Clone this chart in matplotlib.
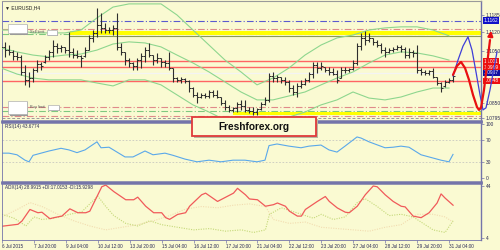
import numpy as np
import matplotlib
matplotlib.use("Agg")
import matplotlib.pyplot as plt
import matplotlib.transforms as mtransforms
from matplotlib.patches import Rectangle

# ---- data ------------------------------------------------------------------
# H4 bars, index 0 = 6 Jul 12:00
high = [1.1079, 1.1083, 1.1071, 1.1052, 1.1045, 1.1033, 1.0996, 1.0969, 1.0984, 1.1014,
        1.1007, 1.1033, 1.1052, 1.1090, 1.1079, 1.1071, 1.1064, 1.1121, 1.1060, 1.1052,
        1.1033, 1.1064, 1.1109, 1.1128, 1.1212, 1.1193, 1.1155, 1.1140, 1.1147, 1.1193,
        1.1079, 1.1045, 1.1022, 1.1007, 1.1022, 1.1041, 1.1064, 1.1079, 1.1033, 1.1041,
        1.1022, 1.1014, 1.1045, 1.0984, 1.0950, 1.0950, 1.0946, 1.0939, 1.0912, 1.0893,
        1.0889, 1.0889, 1.0901, 1.0901, 1.0901, 1.0874, 1.0863, 1.0844, 1.0836, 1.0855,
        1.0863, 1.0863, 1.0836, 1.0836, 1.0833, 1.0855, 1.0874, 1.0965, 1.0969, 1.0958,
        1.0950, 1.0950, 1.0939, 1.0920, 1.0927, 1.0939, 1.0946, 1.0969, 1.1007, 1.1007,
        1.1007, 1.0988, 1.0988, 1.0984, 1.0977, 1.0988, 1.0988, 1.0984, 1.1014, 1.1079,
        1.1117, 1.1125, 1.1117, 1.1098, 1.1090, 1.1079, 1.1064, 1.1060, 1.1064, 1.1071,
        1.1071, 1.1064, 1.1060, 1.1052, 1.1071, 1.0984, 1.0977, 1.0977, 1.0984, 1.0950,
        1.0931, 1.0939, 1.0946, 1.0961]
low = [1.1033, 1.1026, 1.1033, 1.1014, 1.1014, 1.0958, 1.0920, 1.0912, 1.0931, 1.0969,
       1.0977, 1.1003, 1.1014, 1.1026, 1.1041, 1.1045, 1.1041, 1.1026, 1.1022, 1.1022,
       1.0988, 1.1026, 1.1052, 1.1083, 1.1102, 1.1117, 1.1117, 1.1117, 1.1109, 1.1052,
       1.1033, 1.0996, 1.0988, 1.0977, 1.0977, 1.0984, 1.1007, 1.1026, 1.0996, 1.1003,
       1.0988, 1.0988, 1.0977, 1.0931, 1.0931, 1.0927, 1.0927, 1.0893, 1.0874, 1.0852,
       1.0870, 1.0870, 1.0870, 1.0874, 1.0870, 1.0844, 1.0825, 1.0817, 1.0817, 1.0817,
       1.0825, 1.0817, 1.0813, 1.0806, 1.0806, 1.0825, 1.0844, 1.0855, 1.0931, 1.0931,
       1.0927, 1.0920, 1.0893, 1.0882, 1.0874, 1.0908, 1.0920, 1.0931, 1.0946, 1.0965,
       1.0977, 1.0969, 1.0958, 1.0958, 1.0927, 1.0946, 1.0965, 1.0969, 1.0977, 1.0996,
       1.1052, 1.1071, 1.1083, 1.1071, 1.1064, 1.1041, 1.1026, 1.1041, 1.1045, 1.1052,
       1.1045, 1.1022, 1.1022, 1.1026, 1.0965, 1.0958, 1.0958, 1.0958, 1.0946, 1.0920,
       1.0893, 1.0912, 1.0927, 1.0931]
opn = [1.1045, 1.1064, 1.1052, 1.1045, 1.1030, 1.1026, 1.0969, 1.0939, 1.0946, 1.0977,
       1.0999, 1.1007, 1.1026, 1.1045, 1.1068, 1.1060, 1.1064, 1.1052, 1.1045, 1.1033,
       1.1030, 1.1030, 1.1052, 1.1098, 1.1117, 1.1147, 1.1136, 1.1128, 1.1128, 1.1136,
       1.1064, 1.1045, 1.1014, 1.1003, 1.0992, 1.1014, 1.1030, 1.1052, 1.1033, 1.1014,
       1.1022, 1.1007, 1.1003, 1.0984, 1.0946, 1.0939, 1.0942, 1.0935, 1.0908, 1.0882,
       1.0874, 1.0882, 1.0878, 1.0893, 1.0882, 1.0874, 1.0852, 1.0836, 1.0825, 1.0833,
       1.0848, 1.0840, 1.0825, 1.0821, 1.0817, 1.0829, 1.0848, 1.0863, 1.0954, 1.0946,
       1.0950, 1.0939, 1.0931, 1.0908, 1.0893, 1.0916, 1.0923, 1.0939, 1.0961, 1.0996,
       1.0984, 1.0988, 1.0977, 1.0969, 1.0961, 1.0946, 1.0977, 1.0977, 1.0980, 1.1003,
       1.1068, 1.1098, 1.1090, 1.1098, 1.1083, 1.1071, 1.1052, 1.1045, 1.1052, 1.1056,
       1.1064, 1.1056, 1.1033, 1.1045, 1.1041, 1.0977, 1.0969, 1.0965, 1.0973, 1.0950,
       1.0927, 1.0916, 1.0931, 1.0939]
close = [1.1064, 1.1052, 1.1045, 1.1030, 1.1026, 1.0969, 1.0939, 1.0946, 1.0977, 1.0999,
         1.0992, 1.1026, 1.1045, 1.1068, 1.1060, 1.1064, 1.1052, 1.1045, 1.1033, 1.1030,
         1.1022, 1.1052, 1.1098, 1.1117, 1.1147, 1.1136, 1.1128, 1.1128, 1.1136, 1.1064,
         1.1045, 1.1014, 1.1003, 1.0992, 1.1014, 1.1030, 1.1052, 1.1033, 1.1014, 1.1022,
         1.1007, 1.1003, 1.0984, 1.0946, 1.0939, 1.0942, 1.0935, 1.0908, 1.0882, 1.0874,
         1.0882, 1.0878, 1.0893, 1.0882, 1.0874, 1.0852, 1.0836, 1.0825, 1.0833, 1.0848,
         1.0840, 1.0825, 1.0821, 1.0817, 1.0829, 1.0848, 1.0863, 1.0954, 1.0946, 1.0950,
         1.0939, 1.0931, 1.0908, 1.0893, 1.0916, 1.0923, 1.0939, 1.0961, 1.0996, 1.0984,
         1.0992, 1.0977, 1.0969, 1.0961, 1.0939, 1.0977, 1.0977, 1.0980, 1.1003, 1.1068,
         1.1098, 1.1090, 1.1098, 1.1083, 1.1071, 1.1052, 1.1045, 1.1052, 1.1056, 1.1064,
         1.1056, 1.1033, 1.1045, 1.1041, 1.0977, 1.0969, 1.0965, 1.0973, 1.0950, 1.0927,
         1.0908, 1.0931, 1.0939, 1.0954]

# Bollinger bands, sampled every 4 bars
bb_x = [0, 4, 8, 12, 16, 20, 24, 28, 32, 36, 40, 44, 48, 52, 56, 60, 64, 68, 72, 76,
        80, 84, 88, 92, 96, 100, 104, 108, 112]
bb_up = [1.1128, 1.1128, 1.1117, 1.1117, 1.1117, 1.1128, 1.1174, 1.1215, 1.1227, 1.1227,
         1.1227, 1.1185, 1.1128, 1.1071, 1.1014, 1.0969, 1.0920, 1.0946, 1.0984, 1.1033,
         1.1071, 1.1098, 1.1109, 1.1128, 1.1136, 1.1140, 1.1140, 1.1128, 1.1106]
bb_mid = [1.1060, 1.1045, 1.1033, 1.1026, 1.1033, 1.1037, 1.1052, 1.1075, 1.1083, 1.1079,
          1.1064, 1.1033, 1.1003, 1.0969, 1.0931, 1.0893, 1.0863, 1.0863, 1.0878, 1.0893,
          1.0920, 1.0946, 1.0969, 1.1003, 1.1033, 1.1045, 1.1041, 1.1030, 1.1014]
bb_low = [1.0984, 1.0961, 1.0946, 1.0939, 1.0939, 1.0939, 1.0927, 1.0916, 1.0939, 1.0939,
          1.0920, 1.0882, 1.0844, 1.0817, 1.0787, 1.0768, 1.0768, 1.0787, 1.0798, 1.0817,
          1.0844, 1.0863, 1.0893, 1.0870, 1.0863, 1.0874, 1.0893, 1.0908, 1.0908]

# forecast zigzags drawn past the last bar
fc_red_x = [113, 114, 115, 116, 117, 118, 119, 119.5, 120, 120.75, 121.5, 122.25]
fc_red_y = [1.0958, 1.0992, 1.1007, 1.0984, 1.0939, 1.0882, 1.0836, 1.0825, 1.0833,
            1.0901, 1.0996, 1.1090]
fc_red_tip = (122.6, 1.1136)
fc_blue_x = [113, 114.25, 115.5, 116.75, 117.75, 118.75, 119.75, 120.5, 121.25, 122.25,
             123.25, 124]
fc_blue_y = [1.0954, 1.1014, 1.1067, 1.1102, 1.1052, 1.0969, 1.0882, 1.0825, 1.0833,
             1.0901, 1.0984, 1.1045]

# RSI(14)
rsi_x = [0, 2, 4, 6, 7, 8, 10, 12, 15, 17, 19, 21, 24, 25, 27, 29, 31, 33, 36, 38, 41,
         43, 46, 49, 52, 55, 58, 61, 64, 66, 67, 69, 72, 75, 77, 80, 82, 84, 86, 89, 90,
         92, 96, 98, 100, 102, 105, 107, 110, 112, 113]
rsi = [46, 46, 43, 33, 30, 42, 46, 50, 55, 52, 47, 52, 67, 56, 57, 48, 39, 39, 50, 43,
       46, 42, 35, 30, 33, 30, 33, 33, 30, 33, 60, 63, 59, 56, 59, 61, 52, 48, 59, 76,
       74, 67, 56, 57, 59, 57, 43, 39, 33, 30, 43.7]

# ADX(14) and DI lines
adx_x = [0, 4, 5, 7, 9, 10, 12, 13, 15, 17, 19, 21, 22, 23, 25, 26, 28, 31, 33, 34, 36,
         38, 40, 41, 42, 44, 46, 47, 50, 51, 54, 58, 59, 61, 62, 64, 66, 68, 69, 71, 72,
         74, 75, 76, 79, 81, 82, 84, 86, 87, 89, 91, 93, 94, 96, 98, 100, 101, 103, 105,
         107, 109, 110, 111, 113]
adx = [12.8, 14.3, 16.8, 25.7, 23.2, 23.6, 18.6, 19.4, 20.6, 26.2, 23.2, 23.2, 24.4, 30.7,
       43.2, 44.5, 39.5, 33.2, 33.2, 35.2, 28.2, 23.2, 23.2, 19.4, 18.1, 21.9, 23.2, 28.2,
       37.0, 38.3, 31.9, 38.3, 42.0, 37.0, 33.8, 33.2, 28.2, 29.4, 30.7, 28.2, 24.4, 20.6,
       20.6, 25.7, 31.9, 35.7, 31.9, 26.9, 23.6, 23.2, 28.2, 37.0, 43.8, 43.2, 37.0, 31.9,
       28.2, 27.7, 20.6, 19.4, 23.2, 30.7, 37.7, 34.5, 29.0]
pdi_x = [0, 3, 6, 8, 10, 13, 17, 20, 22, 24, 26, 28, 31, 34, 37, 40, 44, 48, 52, 56,
         60, 63, 66, 67, 70, 73, 76, 78, 80, 83, 86, 89, 91, 94, 97, 100, 103, 105, 108,
         111, 113]
pdi = [22, 19, 13, 20, 18, 19, 22, 24, 30, 36, 28, 21, 15, 13, 17, 14, 12, 10, 11, 9,
       10, 8, 10, 22, 27, 24, 21, 19, 22, 18, 20, 31, 34, 28, 21, 22, 20, 16, 10, 8, 17]
mdi_x = [0, 4, 7, 10, 14, 18, 22, 26, 30, 34, 38, 42, 46, 50, 54, 58, 62, 66, 68, 72,
         76, 80, 84, 88, 92, 96, 100, 104, 108, 111, 113]
mdi = [20, 26, 31, 28, 22, 17, 13, 10, 12, 14, 17, 21, 26, 28, 27, 29, 30, 28, 18, 15,
       16, 12, 11, 10, 9, 12, 14, 22, 22, 20, 16]

date_pos = [0, 8, 16, 24, 32, 40, 48, 56, 64, 72, 80, 88, 96, 104, 112]
date_lbl = ["6 Jul 2015", "7 Jul 20:00", "9 Jul 04:00", "10 Jul 12:00", "13 Jul 20:00",
            "15 Jul 04:00", "16 Jul 12:00", "17 Jul 20:00", "21 Jul 04:00", "22 Jul 12:00",
            "23 Jul 20:00", "27 Jul 04:00", "28 Jul 12:00", "29 Jul 20:00", "31 Jul 04:00"]

# ---- style -----------------------------------------------------------------
BG = "#fafad2"; FRAME = "#7474aa"; BARC = "#2e2e2e"; BAND = "#8ed68e"
RED = "#ff6464"; TXT = "#2a2a55"
FS = 3.3
plt.rcParams.update({"font.family": ["Liberation Sans", "DejaVu Sans"], "font.size": FS})

W, H = 500, 250
fig = plt.figure(figsize=(5, 2.5), dpi=100, facecolor=BG)

def px_axes(x0, y0, x1, y1):
    return fig.add_axes([x0 / W, 1 - y1 / H, (x1 - x0) / W, (y1 - y0) / H], facecolor=BG)

def fig_rect(x0, y0, x1, y1, **kw):
    r = Rectangle((x0 / W, 1 - y1 / H), (x1 - x0) / W, (y1 - y0) / H,
                  transform=fig.transFigure, **kw)
    fig.add_artist(r)
    return r

ax = px_axes(2, 1, 481, 121)
ax_rsi = px_axes(2, 122, 481, 182)
ax_adx = px_axes(2, 183, 481, 240)

XL = (0.25, 120)
for a in (ax, ax_rsi, ax_adx):
    a.set_xlim(*XL)
    a.yaxis.tick_right()
    a.tick_params(axis="y", length=2, width=0.5, pad=1.2, labelsize=3.5,
                  colors=FRAME, labelcolor=TXT)
    a.tick_params(axis="x", length=0, labelbottom=False)
    for s in ("left", "right", "top", "bottom"):
        a.spines[s].set_color(FRAME)
    a.spines["left"].set_linewidth(0.6)
    a.spines["right"].set_linewidth(1.0)
    a.spines["top"].set_linewidth(1.8)
    a.spines["bottom"].set_linewidth(1.8)
ax.spines["top"].set_color("#9a9a9a")
ax.spines["top"].set_linewidth(0.8)
ax_adx.spines["bottom"].set_linewidth(0.6)

# ---- main panel ------------------------------------------------------------
ax.set_ylim(1.0783, 1.1238)
xb = np.arange(len(high))

# horizontal levels
dd = (0, (6, 2, 1, 2))
ax.axhline(1.1162, color="#5a5ad0", lw=0.8, ls=dd, zorder=1)
ax.axhline(1.1132, color="#e08a8a", lw=0.8, ls=dd, zorder=1)
ax.axhline(1.1113, color="#7fc87f", lw=0.8, ls=dd, zorder=1)
ax.fill_between([17.25, 120], 1.1108, 1.1126, color="#ffff00", lw=0, zorder=2)
ax.plot([17.25, 120], [1.1106, 1.1106], color="#8a9a5a", lw=0.8, zorder=2)
for lvl in (1.1009, 1.0986, 1.0933):
    ax.axhline(lvl, color=RED, lw=1.0, zorder=1)
ax.axhline(1.0965, color="#f4f4f4", lw=0.9, zorder=1)
ax.axhline(1.0836, color="#e08a8a", lw=0.8, ls=dd, zorder=1)
ax.axhline(1.0821, color="#7fc87f", lw=0.8, ls=dd, zorder=1)
ax.fill_between([58, 120], 1.0807, 1.0818, color="#ffff00", lw=0, zorder=2)
ax.axhline(1.0803, color="#e08a8a", lw=0.8, ls=dd, zorder=1)
ax.axhline(1.0794, color="#9a9a9a", lw=0.7, ls=(0, (3, 2)), zorder=1)

# bollinger
for band in (bb_up, bb_mid, bb_low):
    ax.plot(bb_x, band, color=BAND, lw=0.8, zorder=3)

# OHLC bars
ax.vlines(xb, low, high, color=BARC, lw=0.8, zorder=4)
ax.hlines(opn, xb - 0.45, xb, color=BARC, lw=0.7, zorder=4)
ax.hlines(close, xb, xb + 0.45, color=BARC, lw=0.7, zorder=4)

# forecast zigzags
ax.plot(fc_blue_x, fc_blue_y, color="#3f3fd8", lw=0.9, clip_on=False, zorder=6)
ax.plot(fc_red_x, fc_red_y, color="#e81010", lw=1.6, clip_on=False, zorder=7,
        solid_capstyle="round")
ax.annotate("", xy=fc_red_tip, xytext=(fc_red_x[-1], fc_red_y[-1]),
            arrowprops=dict(arrowstyle="-|>", color="#e81010", lw=1.6, mutation_scale=7),
            annotation_clip=False, zorder=7)

ax.set_yticks([1.0795, 1.0850, 1.1050, 1.1120, 1.1185])
ax.set_yticklabels(["1.0795", "1.0850", "1.1050", "1.1120", "1.1185"])
tr = mtransforms.blended_transform_factory(ax.transAxes, ax.transData)
for val, txt, col in [(1.1164, "1.1162", "#1010c8"), (1.1009, "1.1011", "#ee1010"),
                      (1.0986, "1.0989", "#ee1010"), (1.0965, "1.0967", "#1010a0"),
                      (1.0935, "1.0948", "#ee1010")]:
    ax.text(1.006, val, txt, transform=tr, ha="left", va="center", color="white",
            fontsize=3.5, clip_on=False, zorder=5,
            bbox=dict(boxstyle="square,pad=0.15", fc=col, ec="none"))

ax.text(0.006, 0.965, "\u25bc EURUSD,H4", transform=ax.transAxes, ha="left", va="top",
        color="#222222", fontsize=3.6)

# pending-order boxes on the left
for (x0, y0, x1, y1) in [(8, 24, 27, 33), (8, 101, 27, 114)]:
    fig_rect(x0 + 1.5, y0 + 1.5, x1 + 1.5, y1 + 1.5, fc="#9a9a9a", ec="none", zorder=8)
    fig_rect(x0, y0, x1, y1, fc="white", ec="#b0b0b0", lw=0.5, zorder=9)
for (x0, y0, x1, y1) in [(47, 30, 57, 35), (48, 105, 59, 110)]:
    fig_rect(x0 + 1, y0 + 1, x1 + 1, y1 + 1, fc="#9a9a9a", ec="none", zorder=8)
    fig_rect(x0, y0, x1, y1, fc="white", ec="#b0b0b0", lw=0.5, zorder=9)
fig.text(30 / W, 1 - 32 / H, "Sell limit", fontsize=2.8, color="#555555", va="center")
fig.text(30 / W, 1 - 107 / H, "Buy limit", fontsize=2.8, color="#555555", va="center")

# watermark box
fig_rect(194, 119, 318, 138, fc="#b8b8a0", ec="none", zorder=10)
fig_rect(192, 117, 316, 136, fc="#fcfcd6", ec="#e03a3a", lw=1.3, zorder=11)
fig.text(254 / W, 1 - 127 / H, "Freshforex.org", ha="center", va="center",
         fontsize=7.3, fontweight="bold", color="#111111", zorder=12)

# ---- RSI panel -------------------------------------------------------------
ax_rsi.set_ylim(-7.4, 103.7)
ax_rsi.axhline(70, color="#c8c8c0", lw=0.6, ls=(0, (2, 2)))
ax_rsi.axhline(30, color="#c8c8c0", lw=0.6, ls=(0, (2, 2)))
ax_rsi.plot(rsi_x, rsi, color="#5aa8ea", lw=0.8)
ax_rsi.set_yticks([0, 30, 70, 100])
ax_rsi.text(0.006, 0.96, "RSI(14) 43.6774", transform=ax_rsi.transAxes, ha="left",
            va="top", color=TXT, fontsize=FS)

# ---- ADX panel -------------------------------------------------------------
ax_adx.set_ylim(2.2, 46.1)
ax_adx.plot(mdi_x, mdi, color="#f2dcb0", lw=0.8, ls=(0, (1, 1.2)))
ax_adx.plot(pdi_x, pdi, color="#c4d878", lw=0.8, ls=(0, (1, 1.2)))
ax_adx.plot(adx_x, adx, color="#f05a5a", lw=0.9)
ax_adx.set_yticks([4, 44])
ax_adx.text(0.006, 0.96, "ADX(14) 28.9915 +DI:17.0153 -DI:15.9298",
            transform=ax_adx.transAxes, ha="left", va="top", color=TXT, fontsize=FS)
ax_adx.set_xticks(date_pos)
ax_adx.set_xticklabels(date_lbl, ha="left")
ax_adx.tick_params(axis="x", length=2, width=0.5, pad=1, labelbottom=True,
                   labelsize=FS, colors=FRAME, labelcolor=TXT)

fig.savefig("out.png", dpi=100, facecolor=BG)
